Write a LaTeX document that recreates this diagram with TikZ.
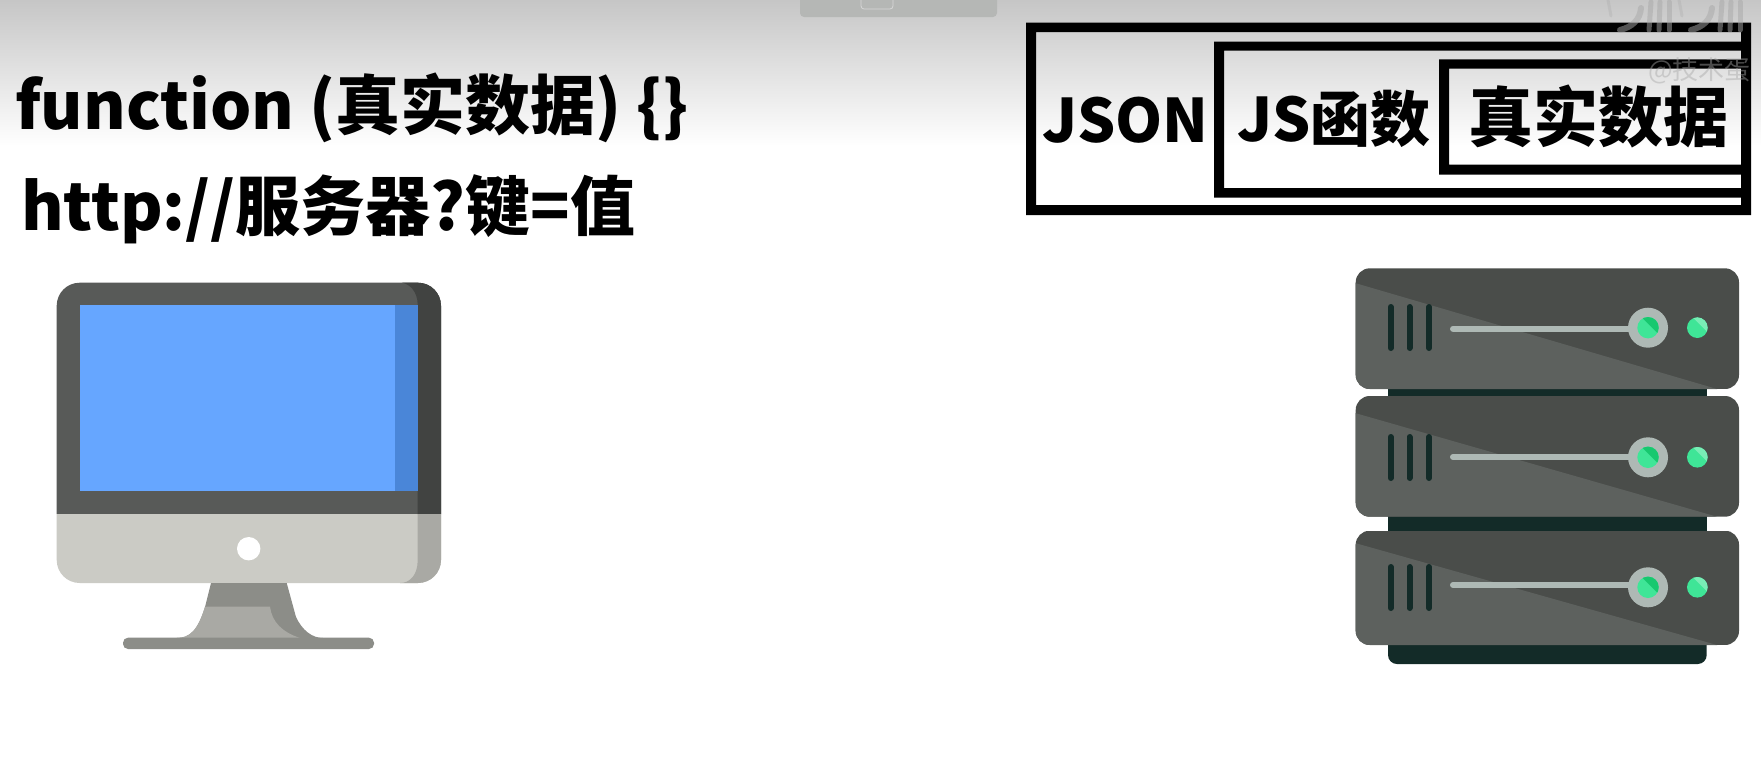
\documentclass[tikz,border=0pt]{standalone}
\usepackage{fontspec}
\setmainfont{Noto Sans CJK SC Black}
\newfontfamily\wmfont{Noto Sans CJK SC}
\usetikzlibrary{calc}
\definecolor{frameC}{HTML}{585A58}
\definecolor{frameD}{HTML}{414341}
\definecolor{chinC}{HTML}{CBCBC5}
\definecolor{chinD}{HTML}{A9A9A4}
\definecolor{standD}{HTML}{8C8D88}
\definecolor{scr}{HTML}{66A6FF}
\definecolor{scrD}{HTML}{4A86D8}
\definecolor{srvD}{HTML}{4A4D4A}
\definecolor{srvL}{HTML}{5D615E}
\definecolor{srvK}{HTML}{132B28}
\definecolor{knob}{HTML}{AEB9B5}
\definecolor{grn}{HTML}{17C86F}
\definecolor{grnL}{HTML}{3FE597}
\definecolor{wmC}{HTML}{A8A8A8}
\tikzset{
  txt/.style={anchor=base west,inner sep=0pt,outer sep=0pt,text=black},
  slot/.style={line width=6pt,line cap=round,draw=srvK},
  rail/.style={line width=6pt,line cap=round,draw=knob},
  wmstroke/.style={draw=wmC,opacity=.5,line cap=round,line join=round},
  nestframe/.style={fill=black,even odd rule},
}
\newcommand{\srvunit}[6]{% top, bottom, diagonal left y, knob y, rail y, slot top
  \begin{scope}
    \clip[rounded corners=14pt] (1355.7,#1) rectangle (1739,#2);
    \fill[srvD] (1355,#1) rectangle (1740,#2);
    \fill[srvL] (1355,#3) -- (1717,#2) -- (1355,#2) -- cycle;
  \end{scope}
  \draw[slot] (1390.7,#6) -- (1390.7,#6+41);
  \draw[slot] (1409.5,#6) -- (1409.5,#6+41);
  \draw[slot] (1429,#6) -- (1429,#6+41);
  \draw[rail] (1453,#5) -- (1648,#5);
  \fill[knob] (1648,#4) circle[radius=20];
  \begin{scope}
    \clip (1648,#4) circle[radius=10.7];
    \fill[grnL] (1636,#4-12) rectangle (1660,#4+12);
    \fill[grn] (1640,#4-12) -- (1660,#4+8) -- (1660,#4-12) -- cycle;
  \end{scope}
  \begin{scope}
    \clip (1697.3,#4) circle[radius=10.3];
    \fill[grnL] (1686,#4-12) rectangle (1709,#4+12);
    \fill[grnL!70!white] (1691,#4-12) -- (1709,#4+6) -- (1709,#4-12) -- cycle;
  \end{scope}
}
\newcommand{\wmlogo}[1]{%
  \begin{scope}[xshift=#1pt]
    \draw[wmstroke,line width=3pt,opacity=.3] (1608,0) -- (1611,16);
    \draw[wmstroke,line width=6pt] (1641,8) .. controls (1640,20) and (1632,27) .. (1620,30);
    \draw[wmstroke,line width=5pt] (1651,2) -- (1649,30);
    \draw[wmstroke,line width=5pt] (1660,2) -- (1659,30);
    \draw[wmstroke,line width=5pt] (1669,2) -- (1669,30);
  \end{scope}
}
\begin{document}
\begin{tikzpicture}[x=1pt,y=-1pt]
\useasboundingbox (0,0) rectangle (1761,763);
\fill[white] (0,0) rectangle (1761,763);
\shade[top color={rgb,255:red,198;green,198;blue,198},bottom color=white] (0,0) rectangle (1761,146);
% top bar
\fill[rounded corners=4pt,fill={rgb,255:red,181;green,183;blue,181}] (800,-8) rectangle (997,17);
\draw[rounded corners=3pt,draw={rgb,255:red,215;green,215;blue,215},line width=0.8pt] (861,-5) rectangle (893,9);
% left text
\node[txt] (fn) at (15,129) {\fontsize{65}{65}\selectfont function (真实数据) \{\}};
\node[txt] (url) at (21,230) {\fontsize{65}{65}\selectfont http://服务器?键=值};
% nested boxes
\fill[nestframe] (1026,22.7) rectangle (1751,215) (1036,32) rectangle (1741,205);
\fill[nestframe] (1214,41.7) rectangle (1741,197.7) (1224,50.7) rectangle (1741,188);
\fill[nestframe] (1439,59.3) rectangle (1741,174.7) (1449,68.7) rectangle (1741,164.7);
\node[txt] (json) at (1042,142) {\fontsize{60}{60}\selectfont JSON};
\node[txt] (jsf) at (1237,141) {\fontsize{60}{60}\selectfont JS函数};
\node[txt] (real) at (1468,141) {\fontsize{65}{65}\selectfont 真实数据};
% monitor
\begin{scope}
  \clip[rounded corners=23pt] (56.7,282.7) rectangle (441,583);
  \fill[frameC] (56,282) rectangle (442,514);
  \fill[chinC] (56,514) rectangle (442,584);
  \fill[frameD] (397,282) .. controls (410,282) and (417.7,292) .. (417.7,305) -- (417.7,514) -- (442,514) -- (442,282) -- cycle;
  \fill[chinD] (417.7,514) -- (417.7,560) .. controls (417.7,575) and (410,583) .. (400,583) -- (442,584) -- (442,514) -- cycle;
\end{scope}
\fill[scr] (80,305) rectangle (417.7,491);
\fill[scrD] (395,305) rectangle (417.7,491);
\fill[white] (248.7,548.7) circle[radius=11.7];
\fill[standD] (211,583) -- (286.7,583) -- (296,617) .. controls (302,630) and (312,638) .. (323,638) -- (176.7,638) .. controls (190,638) and (198,630) .. (205,607) -- cycle;
\fill[chinD] (205,606.7) -- (270,606.7) .. controls (272,622) and (282,632) .. (300,638) -- (176.7,638) .. controls (190,638) and (198,630) .. (205,606.7) -- cycle;
\fill[standD,rounded corners=5pt] (123,637.7) rectangle (374,649);
% server
\fill[srvK] (1388,380) rectangle (1706.7,400);
\fill[srvK] (1388,510) rectangle (1706.7,535);
\fill[srvK,rounded corners=9pt] (1388,630) rectangle (1706.7,664);
\srvunit{268.3}{389}{283}{327.7}{328.7}{307}
\srvunit{396}{516.7}{413}{457.3}{457}{437}
\srvunit{530.7}{645}{543}{587.3}{585}{567}
% watermark
\wmlogo{0}
\wmlogo{71}
\node[txt,text=wmC,opacity=.45] (mark) at (1648,79) {\wmfont\fontsize{26}{26}\selectfont @技术蛋};
\end{tikzpicture}
\end{document}
